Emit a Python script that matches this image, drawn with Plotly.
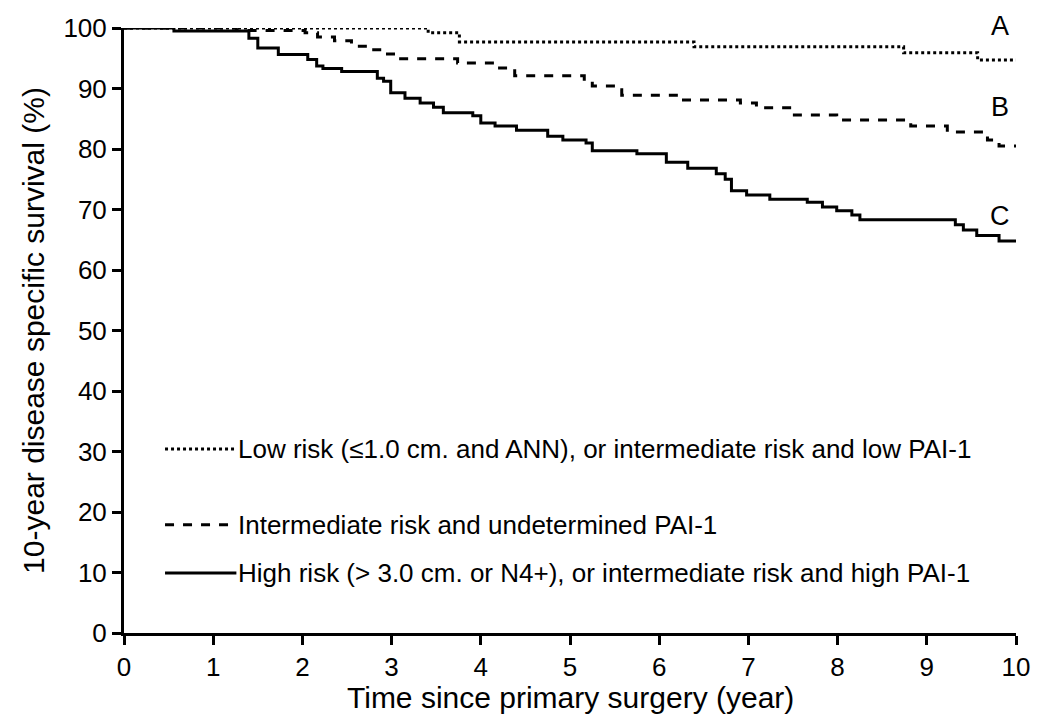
import plotly.graph_objects as go

# step curves (time in years, survival in %)
a_time = [0, 3.41, 3.76, 6.39, 8.74, 9.57, 10]
a_surv = [100, 99.2, 97.7, 96.9, 95.9, 94.7, 94.7]

b_time = [0, 1.26, 2.03, 2.17, 2.36, 2.55, 2.73, 2.91, 3.08, 3.74, 4.16, 4.38,
          5.16, 5.25, 5.51, 5.58, 6.25, 6.91, 7.09, 7.49, 7.99, 8.82, 9.23,
          9.65, 9.68, 9.81, 10]
b_surv = [100, 99.6, 99.2, 98.5, 97.9, 97.0, 96.4, 95.7, 94.9, 94.2, 93.4, 92.1,
          91.2, 90.4, 89.8, 88.9, 88.1, 87.6, 86.8, 85.6, 84.8, 83.8, 82.8,
          82.4, 81.5, 80.5, 80.5]

c_time = [0, 0.56, 1.40, 1.50, 1.73, 2.06, 2.16, 2.23, 2.44, 2.84, 2.91, 2.99,
          3.15, 3.32, 3.47, 3.58, 3.91, 4.00, 4.16, 4.40, 4.75, 4.92, 5.18,
          5.25, 5.75, 6.08, 6.32, 6.64, 6.74, 6.81, 6.98, 7.24, 7.66, 7.83,
          7.99, 8.16, 8.25, 9.32, 9.41, 9.56, 9.81, 10]
c_surv = [100, 99.5, 98.3, 96.7, 95.6, 94.8, 93.7, 93.3, 92.8, 91.7, 91.2, 89.3,
          88.4, 87.6, 86.9, 86.0, 85.5, 84.3, 83.8, 83.1, 82.1, 81.5, 81.0,
          79.7, 79.2, 77.8, 76.8, 75.9, 75.0, 73.1, 72.4, 71.7, 71.2, 70.4,
          69.8, 69.1, 68.3, 67.5, 66.6, 65.7, 64.8, 64.8]

curve_tags = ["A", "B", "C"]
legend_labels = [
    "Low risk (≤1.0 cm. and ANN), or intermediate risk and low PAI-1",
    "Intermediate risk and undetermined PAI-1",
    "High risk (> 3.0 cm. or N4+), or intermediate risk and high PAI-1",
]

font = "Liberation Sans, Arial"
fig = go.Figure()
dashes = ["dot", "dash", "solid"]
for t, s, d in zip([a_time, b_time, c_time], [a_surv, b_surv, c_surv], dashes):
    fig.add_trace(go.Scatter(x=t, y=s, mode="lines", line_shape="hv",
                             line=dict(color="black", width=3, dash=d),
                             showlegend=False, hoverinfo="skip", cliponaxis=False))

# in-plot legend
leg_y = [30.4, 17.9, 9.9]
for lab, d, y in zip(legend_labels, dashes, leg_y):
    fig.add_trace(go.Scatter(x=[0.46, 1.26], y=[y, y], mode="lines",
                             line=dict(color="black", width=3, dash=d),
                             showlegend=False, hoverinfo="skip"))
    fig.add_annotation(x=1.25, y=y, text=lab, showarrow=False, xanchor="left",
                       font=dict(size=26, color="black", family=font))

# curve tags
for tag, y in zip(curve_tags, [1.003, 0.869, 0.689]):
    fig.add_annotation(x=9.82, y=y, yref="paper", text=tag, showarrow=False,
                       yanchor="middle",
                       font=dict(size=27, color="black", family=font))

# x axis title
fig.add_annotation(x=0.5, y=-0.107, xref="paper", yref="paper", showarrow=False,
                   text="Time since primary surgery (year)", yanchor="middle",
                   font=dict(size=30, color="black", family=font))

axis = dict(showgrid=False, zeroline=False, showline=True, linecolor="black",
            linewidth=3, ticks="outside", ticklen=9, tickwidth=3, automargin=False,
            tickcolor="black", tickfont=dict(size=26, family=font, color="black"))
fig.update_xaxes(range=[0, 10], dtick=1, **axis)
fig.update_yaxes(range=[0, 100], dtick=10, title=dict(
    text="10-year disease specific survival (%)", standoff=10,
    font=dict(size=30, family=font)), **axis)

fig.update_layout(width=1040, height=719, plot_bgcolor="white", paper_bgcolor="white",
                  margin=dict(l=116, r=32, t=20, b=94), font=dict(color="black", family=font))
fig.write_html("out.html")
